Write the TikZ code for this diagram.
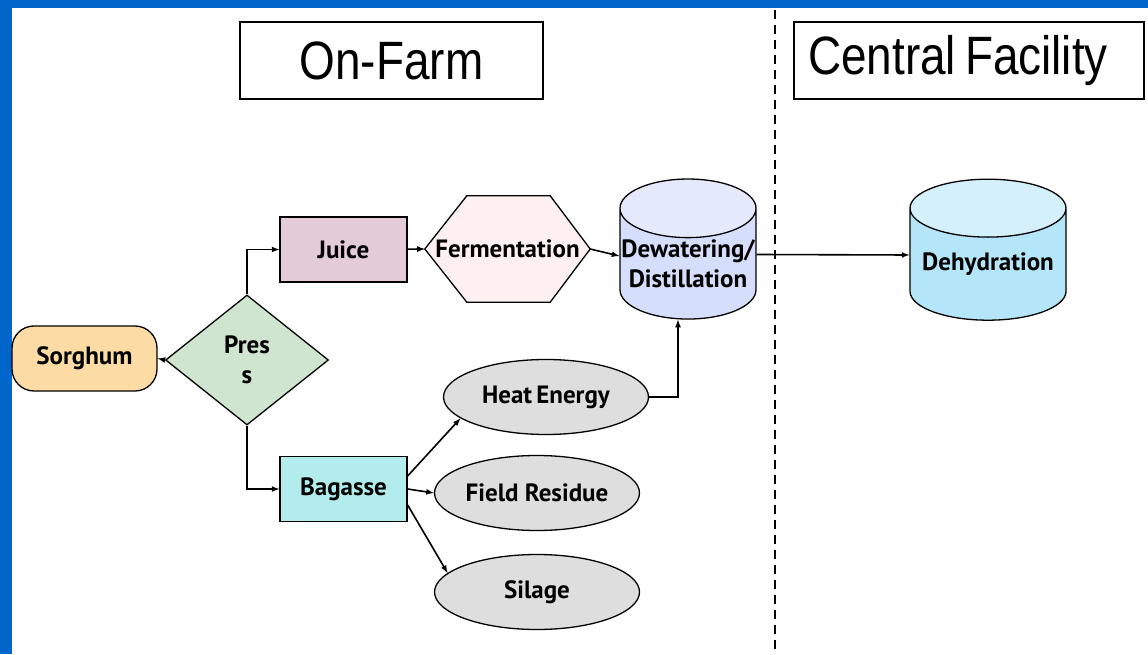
\documentclass[tikz,border=0pt]{standalone}
\usepackage{fontspec}
\setmainfont{PT Sans}
\newfontfamily\headfont[FakeStretch=0.85]{Liberation Sans}
\usetikzlibrary{shapes.geometric,backgrounds}

\definecolor{slideblue}{RGB}{0,102,204}
\definecolor{sorghumfill}{HTML}{FDDBA5}
\definecolor{pressfill}{HTML}{CFE5CF}
\definecolor{juicefill}{HTML}{E3CBD8}
\definecolor{fermentfill}{HTML}{FEF0F0}
\definecolor{bagassefill}{HTML}{B2ECEC}
\definecolor{productfill}{HTML}{DEDEDE}
\definecolor{stillbody}{HTML}{D5DFFB}
\definecolor{stilltop}{HTML}{E4EAFC}
\definecolor{dryerbody}{HTML}{B4E5F9}
\definecolor{dryertop}{HTML}{D4F0FB}

\begin{document}
\begin{tikzpicture}
        [
            x = 1pt, y = -1pt,
            every node/.style = {font=\fontsize{25}{30}\selectfont\bfseries, align=center, inner sep=0pt},
            headbox/.style    = {shape=rectangle, draw, line width=1.4pt, minimum height=77pt,
                                 font=\headfont\fontsize{54}{60}\selectfont},
            boxed/.style      = {shape=rectangle, draw, line width=1.3pt, minimum width=127pt, minimum height=65pt},
            product/.style    = {shape=ellipse, draw, line width=1.3pt, fill=productfill,
                                 minimum width=205pt, minimum height=75pt},
            tank/.style       = {shape=cylinder, shape border rotate=90, draw, line width=1.3pt,
                                 aspect=0.44, cylinder uses custom fill},
            flow/.style       = {draw, line width=1.6pt, -latex},
            divider/.style    = {draw, line width=1.5pt, dash pattern=on 9pt off 6pt},
        ]
        % slide frame
        \begin{scope}[on background layer]
            \fill [slideblue] (0,0) rectangle (1148,654);
            \fill [white] (12,8) rectangle (1148,654);
        \end{scope}

        % headings
        \node [headbox, minimum width=303pt] (farm) at (391.5,60.5) {On-Farm};
        \node [headbox, minimum width=350pt] (central) at (969,60.5) {Central\,Facility\hspace*{22pt}};

        \coordinate (divtop) at (775,10);
        \coordinate (divbot) at (775,654);
        \draw [divider] (divtop) -- (divbot);

        % on-farm steps
        \node [draw, line width=1.3pt, rounded corners=22pt, fill=sorghumfill,
               minimum width=145pt, minimum height=65pt] (sorghum) at (84.5,358.5) {Sorghum};
        \node [shape=diamond, draw, line width=1.3pt, fill=pressfill, aspect=1.25,
               minimum width=163pt, minimum height=130pt] (press) at (247,360) {Pres\\s};
        \node [boxed, fill=juicefill] (juice) at (343.5,249.5) {Juice};
        \node [boxed, fill=bagassefill] (bagasse) at (343.5,489) {Bagasse};
        \node [minimum width=165pt, minimum height=106pt] (ferment) at (507.5,249) {Fermentation};
        \node [tank, cylinder body fill=stillbody, cylinder end fill=stilltop,
               minimum width=136pt, minimum height=140pt] (still) at (688,264) {Dewatering/\\Distillation};
        \node [product] (heat) at (546,397) {Heat\,Energy};
        \node [product] (field) at (537,493) {Field Residue};
        \node [product] (silage) at (537,592) {Silage};

        % fermentation hexagon behind its text
        \begin{scope}[on background layer]
            \draw [line width=1.3pt, fill=fermentfill]
                (ferment.west) -- ([xshift=42pt]ferment.north west) -- ([xshift=-40pt]ferment.north east)
                -- (ferment.east) -- ([xshift=-40pt]ferment.south east) -- ([xshift=42pt]ferment.south west)
                -- cycle;
        \end{scope}

        % central facility
        \node [tank, cylinder body fill=dryerbody, cylinder end fill=dryertop,
               minimum width=156pt, minimum height=141pt] (dryer) at (988,264.5) {Dehydration};

        % connectors
        \draw [flow] (press.west) -- (sorghum.east);
        \draw [flow] (press.north) |- (juice.west);
        \draw [flow] (press.south) |- (bagasse.west);
        \draw [flow] (juice) -- (ferment.west);
        \draw [flow] (ferment.east) -- ([yshift=8pt]still.west);
        \draw [flow] ([yshift=9.5pt]still.east) -- ([yshift=9.5pt]dryer.west);
        \draw [flow] ([yshift=13pt]bagasse.east) -- (heat.194);
        \draw [flow] (bagasse.east) -- (field.west);
        \draw [flow] ([yshift=-16pt]bagasse.east) -- (silage.168);
        \draw [flow] (heat.east) -| ([xshift=-10pt]still.south);
\end{tikzpicture}
\end{document}
